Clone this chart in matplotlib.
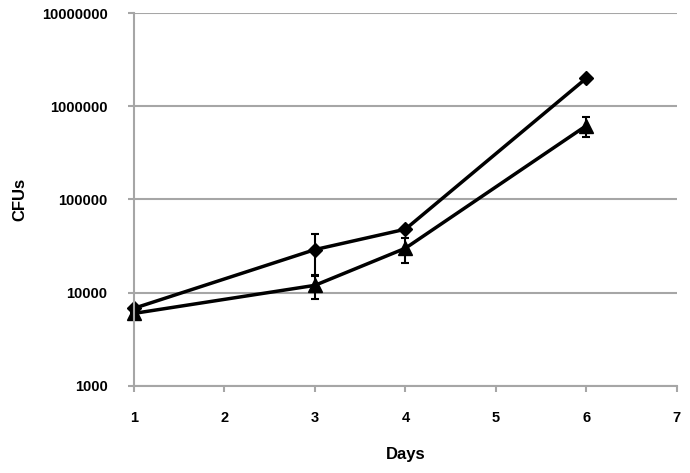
import matplotlib
matplotlib.use("Agg")
from matplotlib import pyplot as plt
from matplotlib.ticker import FixedLocator, FixedFormatter

plt.rcParams['font.family'] = ['Liberation Sans', 'DejaVu Sans']

days = [1, 3, 4, 6]
diamond_cfu = [6800, 29000, 48000, 2000000]
diamond_err = [0, 14000, 0, 0]
triangle_cfu = [6000, 12000, 30000, 620000]
triangle_err = [0, 3500, 9000, 150000]

y_ticks = [1000, 10000, 100000, 1000000, 10000000]
y_labels = ["1000", "10000", "100000", "1000000", "10000000"]
x_ticks = [1, 2, 3, 4, 5, 6, 7]

grid_gray = "#a6a6a6"

fig = plt.figure(figsize=(6.9, 4.73), dpi=100)
ax = fig.add_axes([0.194, 0.184, 0.787, 0.7885])

for cfu, err, mk, ms in [(diamond_cfu, diamond_err, "D", 7),
                         (triangle_cfu, triangle_err, "^", 10)]:
    parts = ax.errorbar(days, cfu, yerr=err, color="black", lw=2.5,
                        marker=mk, markersize=ms, capsize=3,
                        elinewidth=1.5, capthick=1.5)
    for art in parts.lines[0:1] + tuple(parts.lines[1]) + tuple(parts.lines[2]):
        art.set_clip_on(False)

ax.set_yscale("log")
ax.set_ylim(1000, 10000000)
ax.set_xlim(1, 7)
ax.yaxis.set_major_locator(FixedLocator(y_ticks))
ax.yaxis.set_major_formatter(FixedFormatter(y_labels))
ax.yaxis.set_minor_locator(FixedLocator([]))
ax.set_xticks(x_ticks)

ax.grid(axis="y", color=grid_gray, lw=1.5)
ax.set_axisbelow(True)
for side in ["top", "right"]:
    ax.spines[side].set_visible(False)
for side in ["left", "bottom"]:
    ax.spines[side].set_color(grid_gray)
    ax.spines[side].set_linewidth(1.5)

ax.tick_params(colors=grid_gray, length=4, width=1.5, labelcolor="black",
               labelsize=10.5)
for lab in ax.get_xticklabels() + ax.get_yticklabels():
    lab.set_fontweight("bold")
ax.tick_params(axis="x", pad=14)
ax.tick_params(axis="y", pad=15)

ax.set_xlabel("Days", fontsize=12, fontweight="bold", labelpad=16)
ax.set_ylabel("CFUs", fontsize=12, fontweight="bold", labelpad=10)

fig.savefig("out.png", dpi=100)
